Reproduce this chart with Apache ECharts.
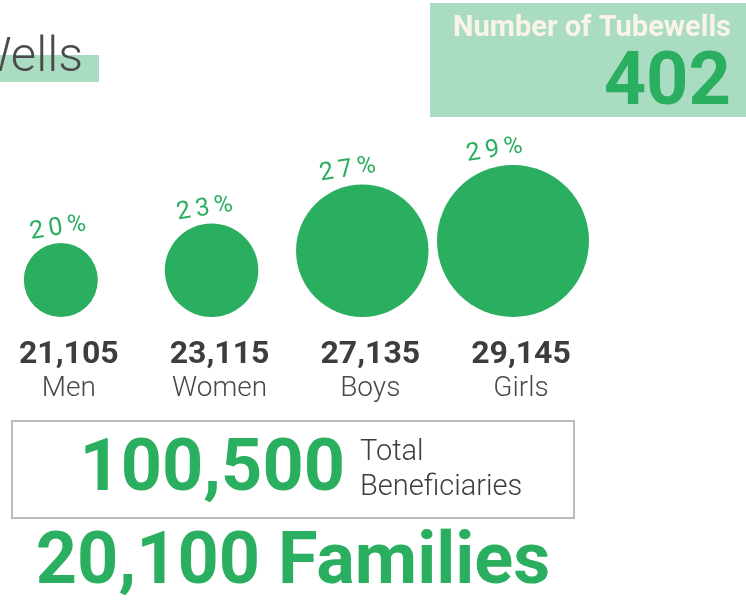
<!DOCTYPE html>
<html>
<head>
<meta charset="utf-8">
<script src="https://cdn.jsdelivr.net/npm/echarts@6/dist/echarts.min.js"></script>
<style>
  html, body { margin: 0; padding: 0; background: #fff; }
  #chart { width: 746px; height: 600px; }
</style>
</head>
<body>
<div id="chart"></div>
<script>
// groups and beneficiaries
const groups = ['Men', 'Women', 'Boys', 'Girls']
const counts = [21105, 23115, 27135, 29145]
const shares = [20, 23, 27, 29]

const tubewells = 402
const totalBeneficiaries = 100500
const families = 20100

const GREEN = '#2aae5f'
const MINT = '#aadcc1'
const DARK = '#3d3d3f'
const FONT = 'Roboto, "Noto Sans", sans-serif'

const fmt = (v) => v.toLocaleString('en-US')

const chart = echarts.init(document.getElementById('chart'))

chart.setOption({
  backgroundColor: '#fff',
  animation: false,
  grid: { left: 60, right: 233, top: 100, bottom: 283 },
  xAxis: {
    type: 'category',
    data: groups,
    boundaryGap: false,
    axisLine: { show: false },
    axisTick: { show: false },
    splitLine: { show: false },
    axisLabel: {
      interval: 0,
      margin: 19,
      formatter: (name, idx) => `{v|${fmt(counts[idx])}}\n{n|${name}}`,
      rich: {
        v: { fontFamily: FONT, fontWeight: 'bold', fontSize: 32, lineHeight: 37, color: DARK, padding: [0, 0, 0, 16] },
        n: { fontFamily: FONT, fontWeight: 300, fontSize: 28, lineHeight: 31, color: '#48484a', padding: [0, 0, 0, 16] },
      },
    },
  },
  yAxis: { type: 'value', min: 0, max: 1, show: false },
  // bubble diameter follows the beneficiary count
  visualMap: {
    show: false,
    dimension: 2,
    min: Math.min(...counts),
    max: Math.max(...counts),
    inRange: { symbolSize: [74, 152] },
  },
  series: [{
    type: 'scatter',
    symbol: 'circle',
    symbolOffset: [0, '-50%'],
    data: counts.map((c, i) => [i, 0, c]),
    itemStyle: { color: GREEN, opacity: 1 },
    label: {
      show: true,
      position: ['30%', 0],
      offset: [14, 0],
      align: 'center',
      verticalAlign: 'bottom',
      rotate: 9,
      fontFamily: FONT,
      fontWeight: 'normal',
      fontSize: 25,
      color: GREEN,
      formatter: (p) => String(shares[p.dataIndex]).split('').join('\u2009') + '\u2009%',
    },
  }],
  graphic: [
    // title fragment
    { type: 'rect', shape: { x: 0, y: 55, width: 99, height: 27 }, style: { fill: MINT }, z: 1 },
    { type: 'text', x: 83, y: 59, z: 2,
      style: { text: 'Wells', align: 'right', verticalAlign: 'middle', font: `300 49px ${FONT}`, fill: '#4a4a4c' } },
    // tubewells box
    { type: 'rect', shape: { x: 430, y: 3, width: 316, height: 114 }, style: { fill: MINT } },
    { type: 'text', x: 731, y: 29, z: 2,
      style: { text: 'Number of Tubewells', align: 'right', verticalAlign: 'middle', font: `bold 29px ${FONT}`, fill: '#faf3e8' } },
    { type: 'text', x: 731, y: 85, z: 2,
      style: { text: String(tubewells), align: 'right', verticalAlign: 'middle', font: `bold 74px ${FONT}`, fill: GREEN } },
    // total box
    { type: 'rect', shape: { x: 12, y: 421, width: 562, height: 97 }, style: { fill: 'none', stroke: '#bcbcbc', lineWidth: 2 } },
    { type: 'text', x: 345, y: 472, z: 2,
      style: { text: fmt(totalBeneficiaries), align: 'right', verticalAlign: 'middle', font: `bold 72px ${FONT}`, fill: GREEN } },
    { type: 'text', x: 360, y: 453, z: 2,
      style: { text: 'Total', align: 'left', verticalAlign: 'middle', font: `300 29px ${FONT}`, fill: DARK } },
    { type: 'text', x: 360, y: 488, z: 2,
      style: { text: 'Beneficiaries', align: 'left', verticalAlign: 'middle', font: `300 29px ${FONT}`, fill: DARK } },
    // families
    { type: 'text', x: 293, y: 565, z: 2,
      style: { text: fmt(families) + ' Families', align: 'center', verticalAlign: 'middle', font: `bold 72px ${FONT}`, fill: GREEN } },
  ],
})
</script>
</body>
</html>
